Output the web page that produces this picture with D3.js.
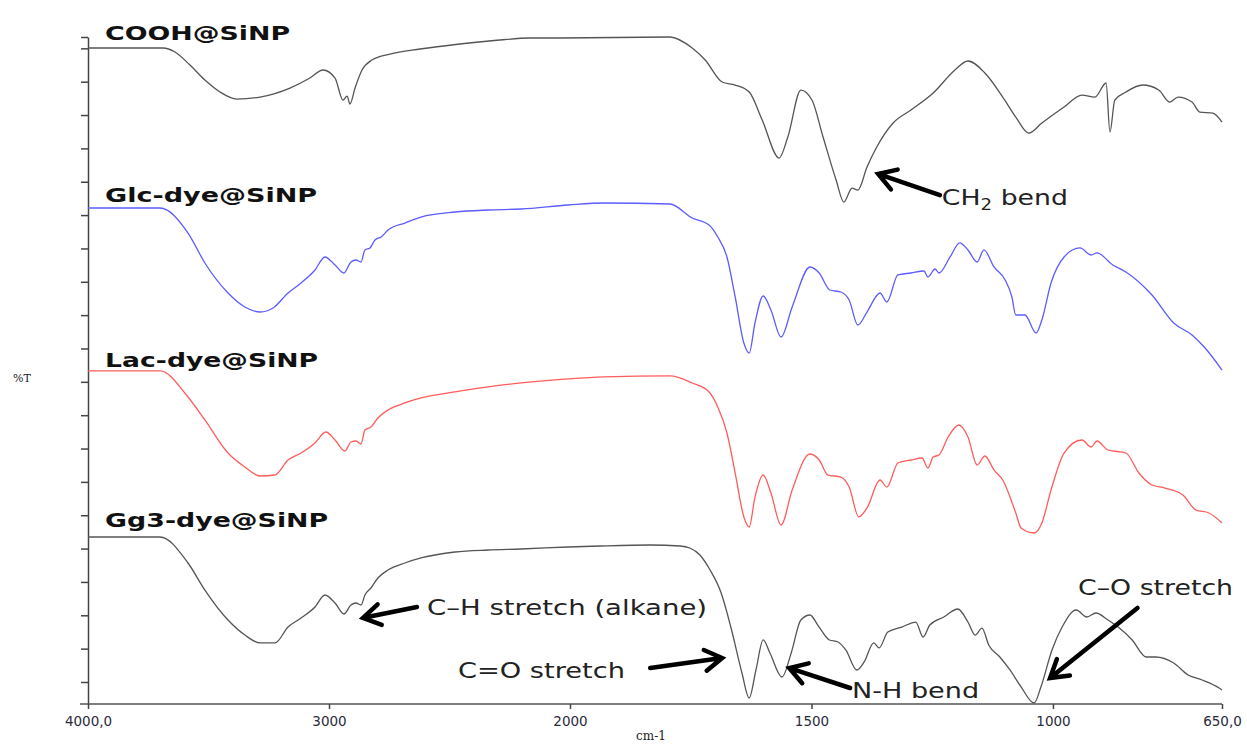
<!DOCTYPE html>
<html>
<head>
<meta charset="utf-8">
<style>
    body { margin: 0; background: #fff; }
    svg { display: block; }
</style>
</head>
<body>
<svg id="chart" width="1247" height="745"></svg>
<script src="https://d3js.org/d3.v7.min.js"></script>
<script>
    // wavenumber (cm-1), stacked %T value
    var cooh = [[4000, 98.35], [3689, 98.35], [3639, 97.75], [3577, 95.8], [3515, 93.55], [3452, 91.75], [3382, 90.7],
        [3286, 91.0], [3162, 92.35], [3079, 93.85], [3025, 95.05], [2975, 93.85], [2942, 90.55], [2925, 91.15],
        [2913, 89.95], [2892, 92.35], [2863, 95.05], [2822, 96.55], [2747, 97.45], [2622, 98.2], [2457, 98.95],
        [2291, 99.55], [2166, 99.85], [2042, 99.85], [1793, 100], [1747, 98.35], [1720, 96.55], [1685, 93.25],
        [1658, 92.8], [1629, 91.75], [1602, 87.55], [1567, 81.85], [1549, 85.0], [1522, 92.05], [1499, 90.55],
        [1476, 85.0], [1449, 78.55], [1433, 75.25], [1416, 77.35], [1404, 77.05], [1385, 80.5], [1366, 83.35],
        [1331, 87.1], [1294, 89.05], [1248, 91.6], [1203, 95.05], [1176, 96.4], [1141, 94.6], [1104, 91.0],
        [1077, 88.0], [1050, 85.6], [1023, 87.1], [977, 89.5], [940, 91.3], [913, 91.0], [890, 93.1], [882, 85.75],
        [872, 90.55], [849, 91.75], [814, 92.8], [781, 92.05], [758, 90.25], [741, 91.0], [712, 90.25],
        [696, 88.75], [669, 88.6], [650, 87.25]];

    var glc = [[4000, 74.36], [3701, 74.36], [3585, 70.61], [3515, 66.12], [3419, 61.62], [3349, 59.52], [3286, 58.77],
        [3232, 59.37], [3170, 61.62], [3116, 63.12], [3058, 65.07], [3017, 67.02], [2975, 65.82], [2938, 64.62],
        [2909, 66.27], [2888, 66.57], [2867, 66.27], [2851, 68.07], [2830, 68.37], [2809, 69.57], [2784, 70.01],
        [2755, 71.06], [2685, 72.11], [2618, 73.01], [2477, 73.76], [2340, 74.06], [2203, 74.21], [2008, 74.81],
        [1930, 75.11], [1793, 74.96], [1747, 72.86], [1712, 71.81], [1694, 70.01], [1675, 67.02], [1658, 61.02],
        [1640, 54.12], [1629, 52.62], [1617, 57.12], [1600, 61.17], [1584, 59.07], [1563, 55.02], [1540, 59.52],
        [1503, 65.52], [1484, 64.62], [1462, 62.07], [1439, 61.77], [1422, 60.57], [1404, 56.82], [1385, 58.77],
        [1358, 61.62], [1344, 60.27], [1321, 64.32], [1294, 64.62], [1267, 64.92], [1259, 64.02], [1244, 65.22],
        [1236, 64.62], [1213, 67.02], [1193, 69.12], [1176, 68.07], [1157, 66.27], [1143, 68.07], [1122, 65.52],
        [1099, 63.57], [1085, 61.02], [1077, 58.32], [1058, 58.32], [1035, 55.62], [1023, 57.57], [1004, 63.12],
        [977, 67.02], [944, 68.37], [921, 67.32], [909, 67.62], [876, 65.82], [849, 64.77], [795, 61.32],
        [750, 57.12], [712, 55.32], [685, 53.37], [650, 50.07]];

    var lac = [[4000, 49.93], [3701, 49.93], [3585, 46.03], [3515, 42.58], [3419, 37.63], [3349, 35.53], [3286, 34.18],
        [3224, 34.33], [3170, 36.58], [3116, 37.63], [3058, 39.13], [3013, 40.78], [2975, 39.58], [2934, 37.93],
        [2909, 39.28], [2888, 39.43], [2867, 38.98], [2851, 41.08], [2826, 41.53], [2797, 42.88], [2755, 44.08],
        [2685, 45.13], [2618, 45.88], [2477, 46.78], [2340, 47.53], [2203, 48.13], [2008, 48.73], [1930, 49.03],
        [1793, 49.18], [1747, 48.13], [1712, 46.78], [1694, 44.53], [1675, 40.63], [1658, 34.63], [1640, 28.04],
        [1629, 26.54], [1617, 31.03], [1600, 34.33], [1584, 31.63], [1563, 26.84], [1540, 32.08], [1503, 37.48],
        [1484, 36.58], [1466, 34.33], [1439, 34.03], [1422, 32.53], [1402, 28.04], [1385, 29.39], [1358, 33.58],
        [1344, 32.53], [1321, 36.13], [1294, 36.58], [1271, 36.88], [1259, 35.38], [1248, 37.03], [1236, 37.33],
        [1217, 40.03], [1195, 41.83], [1176, 40.03], [1157, 35.83], [1141, 37.18], [1122, 35.08], [1104, 33.58],
        [1077, 28.64], [1066, 26.39], [1039, 25.64], [1023, 27.14], [1004, 32.08], [977, 37.63], [940, 39.58],
        [921, 38.53], [909, 39.43], [886, 38.08], [849, 37.63], [822, 34.63], [795, 32.83], [768, 32.38],
        [731, 31.33], [704, 29.09], [677, 28.64], [650, 27.14]];

    var gg3 = [[4000, 25.04], [3701, 25.04], [3585, 21.14], [3515, 17.09], [3419, 12.59], [3349, 10.34], [3286, 9.15],
        [3224, 9.15], [3170, 11.54], [3116, 12.89], [3058, 14.54], [3017, 16.34], [2975, 15.14], [2938, 13.49],
        [2909, 14.84], [2888, 15.14], [2867, 14.84], [2851, 16.34], [2826, 17.39], [2797, 18.89], [2755, 20.09],
        [2685, 21.14], [2618, 21.89], [2477, 22.79], [2340, 23.09], [2203, 23.24], [2008, 23.54], [1938, 23.69],
        [1834, 23.84], [1772, 23.69], [1752, 23.39], [1731, 22.34], [1710, 20.09], [1687, 16.64], [1667, 11.54],
        [1644, 4.65], [1629, 0.9], [1615, 5.1], [1600, 9.6], [1586, 7.65], [1561, 4.05], [1542, 7.65],
        [1522, 12.59], [1503, 13.34], [1487, 11.84], [1463, 9.6], [1445, 9.3], [1429, 8.1], [1406, 5.1],
        [1391, 6.3], [1371, 9.15], [1360, 8.4], [1342, 10.79], [1313, 11.54], [1284, 12.29], [1269, 10.04],
        [1255, 11.84], [1226, 13.04], [1197, 14.24], [1176, 12.29], [1161, 10.34], [1147, 11.39], [1133, 8.85],
        [1110, 7.05], [1089, 5.1], [1066, 2.55], [1039, 0.15], [1025, 2.55], [1002, 8.1], [981, 11.54],
        [952, 14.09], [930, 13.04], [911, 13.64], [886, 12.59], [865, 11.54], [836, 9.6], [807, 7.05],
        [787, 7.05], [750, 6.15], [720, 4.35], [691, 3.6], [656, 2.4], [650, 2.1]];

    var seriesNames = ["COOH@SiNP", "Glc-dye@SiNP", "Lac-dye@SiNP", "Gg3-dye@SiNP"];
    var seriesColors = ["#555555", "#5c5cff", "#ff5c5c", "#555555"];
    var seriesData = [cooh, glc, lac, gg3];
    var labelPos = [[3929, 99.55, 185], [3929, 75.26, 212], [3929, 50.52, 213], [3929, 26.54, 223]];

    var xTicks = [4000, 3000, 2000, 1500, 1000, 650];
    var xTickLabels = ["4000,0", "3000", "2000", "1500", "1000", "650,0"];

    // annotations: text, text position, text width, arrow tail, arrow tip
    var notes = [
        {text: "CH2 bend", at: [1230, 74.8], w: 126, tail: [1234, 76.3], tip: [1362, 79.46]},
        {text: "C\u2013H stretch (alkane)", at: [2593, 13.34], w: 280, tail: [2635, 14.54], tip: [2859, 12.9]},
        {text: "C=O stretch", at: [2465, 3.9], w: 167, tail: [1834, 5.4], tip: [1685, 6.9]},
        {text: "N-H bend", at: [1416, 0.9], w: 127, tail: [1420, 2.4], tip: [1546, 5.4]},
        {text: "C\u2013O stretch", at: [948, 16.34], w: 155, tail: [825, 14.4], tip: [1006, 3.9]}
    ];

    var svg = d3.select("#chart");
    var margin = {left: 88, right: 25, top: 37, bottom: 41};
    var width = +svg.attr("width"), height = +svg.attr("height");

    // FTIR style: scale doubles below 2000 cm-1
    var x = d3.scaleLinear().domain([4000, 2000, 650])
        .range([margin.left, 570, width - margin.right]);
    var y = d3.scaleLinear().domain([0, 100]).range([height - margin.bottom, margin.top]);

    // y axis, ticks only
    var yAxis = d3.axisLeft(y).tickValues(d3.range(3.3, 100, 5).concat([100]))
        .tickSize(7).tickSizeOuter(0).tickFormat("");
    var gy = svg.append("g").attr("transform", "translate(" + margin.left + ",0)").call(yAxis);
    gy.selectAll("line, path").attr("stroke", "#444").attr("stroke-width", 1.5);

    var xAxis = d3.axisBottom(x).tickValues(xTicks).tickSize(5).tickSizeOuter(0)
        .tickFormat(function (d, i) { return xTickLabels[i]; });
    var gx = svg.append("g").attr("transform", "translate(0," + (height - margin.bottom) + ")").call(xAxis);
    gx.select(".domain").attr("stroke", "#555").attr("stroke-width", 1.5)
        .attr("d", "M" + (margin.left - 8) + ",0H" + (width - margin.right));
    gx.selectAll(".tick line").attr("stroke", "#444").attr("stroke-width", 1.5);
    gx.selectAll(".tick text").attr("font-family", "DejaVu Sans").attr("font-size", 13.5)
        .attr("fill", "#2a2a3c").attr("dy", "1.0em");

    svg.append("text").attr("x", 651).attr("y", 740).attr("text-anchor", "middle")
        .attr("font-family", "DejaVu Serif").attr("font-size", 12).attr("fill", "#222").text("cm-1");
    svg.append("text").attr("x", 22).attr("y", 382).attr("text-anchor", "middle")
        .attr("font-family", "DejaVu Serif").attr("font-size", 11).attr("fill", "#222").text("%T");

    var line = d3.line()
        .x(function (d) { return x(d[0]); })
        .y(function (d) { return y(d[1]); })
        .curve(d3.curveMonotoneX);

    svg.append("g").selectAll("path").data(seriesData).enter().append("path")
        .attr("d", line)
        .attr("fill", "none")
        .attr("stroke", function (d, i) { return seriesColors[i]; })
        .attr("stroke-width", 1.3);

    svg.append("g").selectAll("text").data(seriesNames).enter().append("text")
        .attr("x", function (d, i) { return x(labelPos[i][0]); })
        .attr("y", function (d, i) { return y(labelPos[i][1]); })
        .attr("textLength", function (d, i) { return labelPos[i][2]; })
        .attr("lengthAdjust", "spacingAndGlyphs")
        .attr("font-family", "DejaVu Sans").attr("font-weight", "bold").attr("font-size", 20)
        .attr("fill", "#111")
        .text(function (d) { return d; });

    // annotations with arrows
    var ng = svg.append("g");
    notes.forEach(function (n) {
        var t = ng.append("text")
            .attr("x", x(n.at[0])).attr("y", y(n.at[1]))
            .attr("textLength", n.w).attr("lengthAdjust", "spacingAndGlyphs")
            .attr("font-family", "DejaVu Sans").attr("font-size", 22).attr("fill", "#222");
        if (n.text === "CH2 bend") {
            t.append("tspan").text("CH");
            t.append("tspan").attr("font-size", 15).attr("dy", 5).text("2");
            t.append("tspan").attr("dy", -5).text(" bend");
        } else {
            t.text(n.text);
        }
        var x0 = x(n.tail[0]), y0 = y(n.tail[1]), x1 = x(n.tip[0]), y1 = y(n.tip[1]);
        var a = Math.atan2(y0 - y1, x0 - x1), L = 20, s = 0.55;
        var p = d3.path();
        p.moveTo(x0, y0); p.lineTo(x1 + Math.cos(a) * 2, y1 + Math.sin(a) * 2);
        p.moveTo(x1 + Math.cos(a + s) * L, y1 + Math.sin(a + s) * L);
        p.lineTo(x1, y1);
        p.lineTo(x1 + Math.cos(a - s) * L, y1 + Math.sin(a - s) * L);
        ng.append("path").attr("d", p.toString()).attr("fill", "none")
            .attr("stroke", "#000").attr("stroke-width", 4.5)
            .attr("stroke-linecap", "round").attr("stroke-linejoin", "miter");
    });
</script>
</body>
</html>
